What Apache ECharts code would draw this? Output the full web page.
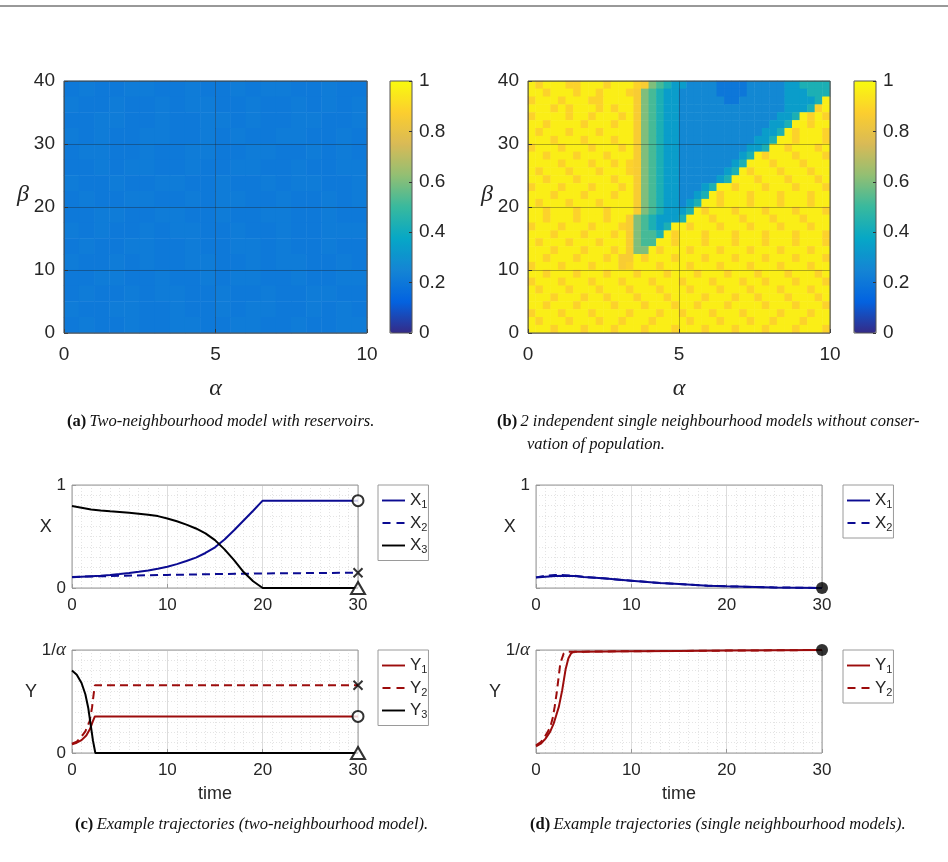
<!DOCTYPE html>
<html>
<head>
<meta charset="utf-8">
<title>Trajectories and steady states</title>
<script src="https://cdn.jsdelivr.net/npm/echarts@6/dist/echarts.min.js"></script>
<style>
html, body { margin: 0; padding: 0; background: #fff; }
#chart { width: 948px; height: 862px; }
</style>
</head>
<body>
<div id="chart"></div>
<script>
// ---------- heatmap (a): rows from beta=40 (top) to beta=0, 20 columns over alpha 0..10
const heatARows = [
  "abaabbaabaababbaabaa",
  "baabaababbaabaababab",
  "aabbaabaabbabaabbaab",
  "babaabbaababaabbaaba",
  "abbaabaabbaabbaababa",
  "aababbaabaabbaabaabb",
  "baabaabbaabaababbaab",
  "abaabbaababbaabaabab",
  "aabbaabbaabaabbaabaa",
  "babaababbaabaabaabbb",
  "abaabbaabaabbabaabaa",
  "baababaabbaababbaaba",
  "aabbaabaababbaabaabb",
  "abaababbaabaabaabbaa",
  "baabbaabaababbaababa",
  "abaabaabbaabbaabaabb"
];
const heatALevels = { a: 0.205, b: 0.216 };

// ---------- heatmap (b): rows from beta=40 (top) to beta=0, 40 columns over alpha 0..10
const heatBRows = [
  "989998899989998 7654 33 22 22111122 222 33 4444",
  "99899989989998 7654 33 2222 211112 2222 333 444",
  "89998999889999 7654 33 22222 2112 22222 3333 4 9",
  "99989899989899 7654 33 222222 222 22222 333 4 89",
  "89999899899989 7654 33 2222222222222 33 4 9898",
  "99899998999899 7654 33 222222222222 33 4 99899",
  "98999899989999 7654 33 22222222222 33 4 989998",
  "99989998999899 7654 33 2222222222 33 4 9989998",
  "89998999899989 7654 33 222222222 33 4 99899989",
  "99899989998999 7654 33 22222222 3 4 9899989998",
  "99998999899898 7654 33 2222222 3 4 99989998999",
  "98999899989998 7654 33 222222 3 4 989998999899",
  "99899989999899 7654 33 22222 3 4 9998999899989",
  "89998999899989 7654 33 222 3 4 998999899989998",
  "99989998999899 7654 33 22 3 4 9899989998999899",
  "98999899989999 7654 33 2 3 4 99899989998999899",
  "99899989998999 7654 33 3 4 989998999899989998",
  "9989998999899 7654 33 3 4 9998999899989998999",
  "8999899989998 7654 3 4 998999899989998999899",
  "9998999899989 7655 4 9899989998999899989998",
  "9899989998999 765 5 99899989998999899989998",
  "9998999899989 76 6 989998999899989998999899",
  "998999899989 77 98999899989998999899989998",
  "899989998999 7 899989998999899989998999899",
  "9989998999 8999899989 9989998999 8999899989",
  "8999899989 9989998999 8999899989 9899989998",
  "9899989998 9998999899 9899989998 9998999899",
  "9998999899 8999899989 9998999899 8999899989",
  "9989998999 9899989998 9989998999 9899989998",
  "8999899989 9998999899 8999899989 9998999899",
  "9899989998 9989998999 9899989998 9989998999",
  "9998999899 9899989998 9998999899 9899989998"
];
const heatBLevels = { '1': 0.2, '2': 0.26, '3': 0.34, '4': 0.43, '5': 0.52, '6': 0.6, '7': 0.86, '8': 0.885, '9': 0.965 };

// ---------- (c) two-neighbourhood model
const timeCX = [0, 1, 2, 3, 4, 5, 6, 7, 8, 9, 10, 11, 12, 13, 14, 15, 16, 17, 18, 19, 20, 30];
const x1C = [0.105, 0.11, 0.115, 0.12, 0.127, 0.136, 0.146, 0.157, 0.17, 0.187, 0.207, 0.232, 0.262, 0.295, 0.34, 0.395, 0.47, 0.56, 0.655, 0.75, 0.848, 0.848];
const x3C = [0.797, 0.78, 0.762, 0.753, 0.745, 0.738, 0.73, 0.722, 0.712, 0.698, 0.675, 0.648, 0.615, 0.578, 0.53, 0.465, 0.375, 0.27, 0.155, 0.065, 0, 0];
const timeCX2 = [0, 5, 10, 15, 20, 25, 30];
const x2C = [0.108, 0.118, 0.127, 0.135, 0.141, 0.145, 0.148];

const timeCY1 = [0, 0.5, 1, 1.5, 1.9, 2.15, 2.4, 30];
const y1C = [0.085, 0.1, 0.125, 0.17, 0.235, 0.3, 0.355, 0.355];
const timeCY2 = [0, 0.5, 1, 1.4, 1.85, 2.1, 2.27, 2.4, 30];
const y2C = [0.09, 0.11, 0.16, 0.21, 0.31, 0.44, 0.57, 0.657, 0.657];
const timeCY3 = [0, 0.5, 1, 1.4, 1.7, 1.95, 2.2, 2.45, 30];
const y3C = [0.80, 0.76, 0.68, 0.57, 0.44, 0.28, 0.12, 0, 0];

// ---------- (d) single neighbourhood models
const timeDX = [0, 1, 2, 3, 4, 5, 7, 10, 13, 15, 18, 20, 25, 30];
const x1D = [0.103, 0.11, 0.116, 0.119, 0.116, 0.106, 0.094, 0.071, 0.048, 0.039, 0.023, 0.016, 0.006, 0];
const x2D = [0.103, 0.12, 0.126, 0.125, 0.12, 0.108, 0.094, 0.071, 0.048, 0.039, 0.023, 0.016, 0.006, 0];

const timeDY1 = [0, 0.5, 1, 1.5, 1.85, 2.1, 2.4, 2.75, 3.1, 3.4, 3.7, 4, 5, 10, 15, 20, 25, 30];
const y1D = [0.065, 0.09, 0.14, 0.21, 0.285, 0.36, 0.45, 0.61, 0.81, 0.92, 0.97, 0.982, 0.984, 0.988, 0.991, 0.994, 0.997, 1.0];
const timeDY2 = [0, 0.5, 0.8, 1.2, 1.5, 1.75, 1.96, 2.15, 2.3, 2.55, 2.9, 3.25, 5, 10, 20, 30];
const y2D = [0.075, 0.105, 0.14, 0.2, 0.253, 0.34, 0.45, 0.57, 0.68, 0.87, 0.965, 0.982, 0.984, 0.988, 0.994, 1.0];

// ---------- styling
const PARULA = ['#352a87', '#0363e1', '#1485d4', '#06a7c6', '#38b99e', '#92bf73', '#d9ba56', '#fcce2e', '#f9fb0e'];
const SANS = 'Liberation Sans, Arial, sans-serif';
const SERIF = 'Liberation Serif, Times New Roman, serif';
const TXT = '#262626';
const BLUE = '#0b0b92';
const RED = '#9c0c0c';
const SOLID_ICON = 'path://M0,0H24V2H0Z';
const DASH_ICON = 'path://M0,0H8V2H0ZM14,0H22V2H14Z';

function heatData(rows, levels) {
  const n = rows.length, out = [];
  rows.forEach((row, i) => {
    const cells = row.replace(/ /g, '');
    for (let j = 0; j < cells.length; j++) out.push([j, n - 1 - i, levels[cells[j]]]);
  });
  return out;
}
function cats(n) { return Array.from({ length: n }, (_, k) => String(k)); }
function pairs(t, v) { return t.map((x, k) => [x, v[k]]); }
function last(t, v) { return [[t[t.length - 1], v[v.length - 1]]]; }

const aCols = heatARows[0].length, aRows = heatARows.length;
const bCols = heatBRows[0].replace(/ /g, '').length, bRows = heatBRows.length;

// heatmap value axes (drawn over the cells)
function heatXAxis(gi) {
  return {
    type: 'value', gridIndex: gi, min: 0, max: 10, interval: 5, position: 'bottom', z: 5,
    axisLine: { show: false },
    axisTick: { show: true, inside: true, length: 4, lineStyle: { color: '#333' } },
    axisLabel: { fontSize: 19, color: TXT, fontFamily: SANS, margin: 12 },
    splitLine: { show: true, lineStyle: { color: 'rgba(30,30,30,0.35)', width: 1 } },
    name: 'α', nameLocation: 'middle', nameGap: 44,
    nameTextStyle: { fontSize: 24, fontFamily: SERIF, fontStyle: 'italic', color: TXT }
  };
}
function heatYAxis(gi) {
  return {
    type: 'value', gridIndex: gi, min: 0, max: 40, interval: 10, position: 'left', z: 5,
    axisLine: { show: false },
    axisTick: { show: true, inside: true, length: 4, lineStyle: { color: '#333' } },
    axisLabel: { fontSize: 19, color: TXT, fontFamily: SANS, margin: 9 },
    splitLine: { show: true, lineStyle: { color: 'rgba(30,30,30,0.35)', width: 1 } },
    name: 'β', nameLocation: 'middle', nameRotate: 0, nameGap: 29,
    nameTextStyle: { fontSize: 24, fontFamily: SERIF, fontStyle: 'italic', color: TXT, verticalAlign: 'bottom' }
  };
}
function barYAxis(gi) {
  return {
    type: 'value', gridIndex: gi, min: 0, max: 1, interval: 0.2, position: 'right', z: 12,
    axisLine: { show: false, onZero: false },
    axisTick: { show: true, inside: true, length: 3, lineStyle: { color: '#333' } },
    axisLabel: { fontSize: 19, color: TXT, fontFamily: SANS, margin: 7 },
    splitLine: { show: false }
  };
}
function timeAxis(gi, withName) {
  return {
    type: 'value', gridIndex: gi, min: 0, max: 30, interval: 10,
    axisLine: { show: false },
    axisTick: { show: true, inside: true, length: 4, lineStyle: { color: '#999' } },
    axisLabel: { fontSize: 17, color: TXT, fontFamily: SANS, margin: 9 },
    splitLine: { show: true, lineStyle: { color: '#dcdcdc', width: 1 } },
    minorTick: { show: false, splitNumber: 10 },
    minorSplitLine: { show: true, lineStyle: { color: '#e4e4e4', width: 1, type: [1, 2] } },
    name: withName ? 'time' : '', nameLocation: 'middle', nameGap: 32,
    nameTextStyle: { fontSize: 18, color: TXT, fontFamily: SANS }
  };
}
function fracAxis(gi, name, fmt, gap) {
  return {
    type: 'value', gridIndex: gi, min: 0, max: 1, interval: 1,
    axisLine: { show: false },
    axisTick: { show: true, inside: true, length: 4, lineStyle: { color: '#999' } },
    axisLabel: {
      fontSize: 17, color: TXT, fontFamily: SANS, margin: 6, formatter: fmt,
      rich: {
        n: { fontSize: 17, color: TXT, fontFamily: SANS },
        a: { fontSize: 19, color: TXT, fontFamily: SERIF, fontStyle: 'italic' }
      }
    },
    splitLine: { show: true, lineStyle: { color: '#dcdcdc', width: 1 } },
    minorTick: { show: false, splitNumber: 10 },
    minorSplitLine: { show: true, lineStyle: { color: '#e4e4e4', width: 1, type: [1, 2] } },
    name: name, nameLocation: 'middle', nameRotate: 0, nameGap: gap,
    nameTextStyle: { fontSize: 18, color: TXT, fontFamily: SANS, verticalAlign: 'bottom' }
  };
}
function lineGrid(left, top) {
  return { left: left, top: top, width: 286, height: 103, show: true, borderColor: '#9a9a9a', borderWidth: 1, z: 1 };
}
function legend(left, top, items) {
  return {
    left: left, top: top, orient: 'vertical', selectedMode: false,
    data: items.map(([name, dashed]) => ({ name: name, icon: dashed ? DASH_ICON : SOLID_ICON })),
    itemWidth: 23, itemHeight: 2, itemGap: 4, padding: [7, 1, 5, 4],
    borderColor: '#9a9a9a', borderWidth: 1, backgroundColor: '#fff',
    formatter: name => { const k = name.slice(-2); return '{m|' + k[0] + '}{s|' + k[1] + '}'; },
    textStyle: {
      rich: {
        m: { fontSize: 17, color: TXT, fontFamily: SANS, lineHeight: 20 },
        s: { fontSize: 11, color: TXT, fontFamily: SANS, lineHeight: 9, verticalAlign: 'bottom' }
      }
    }
  };
}
function curve(name, xi, t, v, color, dashed) {
  return {
    type: 'line', name: name, xAxisIndex: xi, yAxisIndex: xi, data: pairs(t, v),
    symbol: 'none', z: 3,
    lineStyle: { color: color, width: 2, type: dashed ? [8, 5] : 'solid' },
    itemStyle: { color: color }
  };
}
function marker(xi, pt, symbol, size, fill) {
  return {
    type: 'scatter', xAxisIndex: xi, yAxisIndex: xi, data: pt, symbol: symbol, symbolSize: size,
    clip: false, z: 6,
    itemStyle: { color: fill, borderColor: '#000', borderWidth: fill === '#000' ? 0 : 2 }
  };
}
const CROSS = 'path://M0,0L10,10M10,0L0,10';
const capRich = {
  b: { fontFamily: SERIF, fontWeight: 'bold', fontSize: 16.5, fill: '#111' },
  i: { fontFamily: SERIF, fontStyle: 'italic', fontSize: 16.5, fill: '#111' }
};

const option = {
  animation: false,
  backgroundColor: '#fff',
  grid: [
    { left: 64, top: 81, width: 303, height: 252, show: true, borderColor: '#555', borderWidth: 1, z: 10 },
    { left: 528, top: 81, width: 302, height: 252, show: true, borderColor: '#555', borderWidth: 1, z: 10 },
    { left: 390, top: 81, width: 22, height: 252, show: true, borderColor: '#555', borderWidth: 1, z: 10 },
    { left: 854, top: 81, width: 22, height: 252, show: true, borderColor: '#555', borderWidth: 1, z: 10 },
    lineGrid(72, 485),
    lineGrid(72, 650),
    lineGrid(536, 485),
    lineGrid(536, 650)
  ],
  xAxis: [
    { type: 'category', gridIndex: 0, data: cats(aCols), show: false },
    heatXAxis(0),
    { type: 'category', gridIndex: 1, data: cats(bCols), show: false },
    heatXAxis(1),
    { type: 'value', gridIndex: 2, min: 0, max: 1, show: false },
    { type: 'value', gridIndex: 3, min: 0, max: 1, show: false },
    timeAxis(4, false),
    timeAxis(5, true),
    timeAxis(6, false),
    timeAxis(7, true)
  ],
  yAxis: [
    { type: 'category', gridIndex: 0, data: cats(aRows), show: false },
    heatYAxis(0),
    { type: 'category', gridIndex: 1, data: cats(bRows), show: false },
    heatYAxis(1),
    barYAxis(2),
    barYAxis(3),
    fracAxis(4, 'X', v => (v === 1 ? '1' : '0'), 13),
    fracAxis(5, 'Y', v => (v === 1 ? '{n|1/}{a|α}' : '0'), 25),
    fracAxis(6, 'X', v => (v === 1 ? '1' : ''), 13),
    fracAxis(7, 'Y', v => (v === 1 ? '{n|1/}{a|α}' : ''), 26)
  ],
  visualMap: [
    { type: 'continuous', seriesIndex: 0, min: 0, max: 1, left: 390, top: 81, itemWidth: 22, itemHeight: 252,
      calculable: false, hoverLink: false, padding: 0, inRange: { color: PARULA } },
    { type: 'continuous', seriesIndex: 1, min: 0, max: 1, left: 854, top: 81, itemWidth: 22, itemHeight: 252,
      calculable: false, hoverLink: false, padding: 0, inRange: { color: PARULA } }
  ],
  legend: [
    legend(378, 485, [['c-X1', false], ['c-X2', true], ['c-X3', false]]),
    legend(378, 650, [['c-Y1', false], ['c-Y2', true], ['c-Y3', false]]),
    legend(843, 485, [['d-X1', false], ['d-X2', true]]),
    legend(843, 650, [['d-Y1', false], ['d-Y2', true]])
  ],
  series: [
    { type: 'heatmap', xAxisIndex: 0, yAxisIndex: 0, data: heatData(heatARows, heatALevels), z: 2 },
    { type: 'heatmap', xAxisIndex: 2, yAxisIndex: 2, data: heatData(heatBRows, heatBLevels), z: 2 },

    curve('c-X1', 6, timeCX, x1C, BLUE, false),
    curve('c-X2', 6, timeCX2, x2C, BLUE, true),
    curve('c-X3', 6, timeCX, x3C, '#000', false),
    marker(6, last(timeCX, x1C), 'circle', 11, '#fff'),
    marker(6, last(timeCX2, x2C), CROSS, 9, 'none'),
    marker(6, last(timeCX, x3C), 'triangle', [14, 12], '#fff'),

    curve('c-Y1', 7, timeCY1, y1C, RED, false),
    curve('c-Y2', 7, timeCY2, y2C, RED, true),
    curve('c-Y3', 7, timeCY3, y3C, '#000', false),
    marker(7, last(timeCY1, y1C), 'circle', 11, '#fff'),
    marker(7, last(timeCY2, y2C), CROSS, 9, 'none'),
    marker(7, last(timeCY3, y3C), 'triangle', [14, 12], '#fff'),

    curve('d-X1', 8, timeDX, x1D, BLUE, false),
    curve('d-X2', 8, timeDX, x2D, BLUE, true),
    marker(8, last(timeDX, x1D), 'circle', 12, '#000'),

    curve('d-Y1', 9, timeDY1, y1D, RED, false),
    curve('d-Y2', 9, timeDY2, y2D, RED, true),
    marker(9, last(timeDY1, y1D), 'circle', 12, '#000')
  ],
  graphic: [
    { type: 'line', shape: { x1: 0, y1: 6, x2: 948, y2: 6 }, style: { stroke: '#333', lineWidth: 1 } },
    { type: 'text', left: 67, top: 413, style: {
      text: '{b|(a)} {i|Two-neighbourhood model with reservoirs.}', rich: capRich } },
    { type: 'text', left: 497, top: 413, style: {
      text: '{b|(b)} {i|2 independent single neighbourhood models without conser-}', rich: capRich } },
    { type: 'text', left: 527, top: 436, style: {
      text: '{i|vation of population.}', rich: capRich } },
    { type: 'text', left: 75, top: 816, style: {
      text: '{b|(c)} {i|Example trajectories (two-neighbourhood model).}', rich: capRich } },
    { type: 'text', left: 530, top: 816, style: {
      text: '{b|(d)} {i|Example trajectories (single neighbourhood models).}', rich: capRich } }
  ]
};

const chart = echarts.init(document.getElementById('chart'));
chart.setOption(option);
</script>
</body>
</html>
